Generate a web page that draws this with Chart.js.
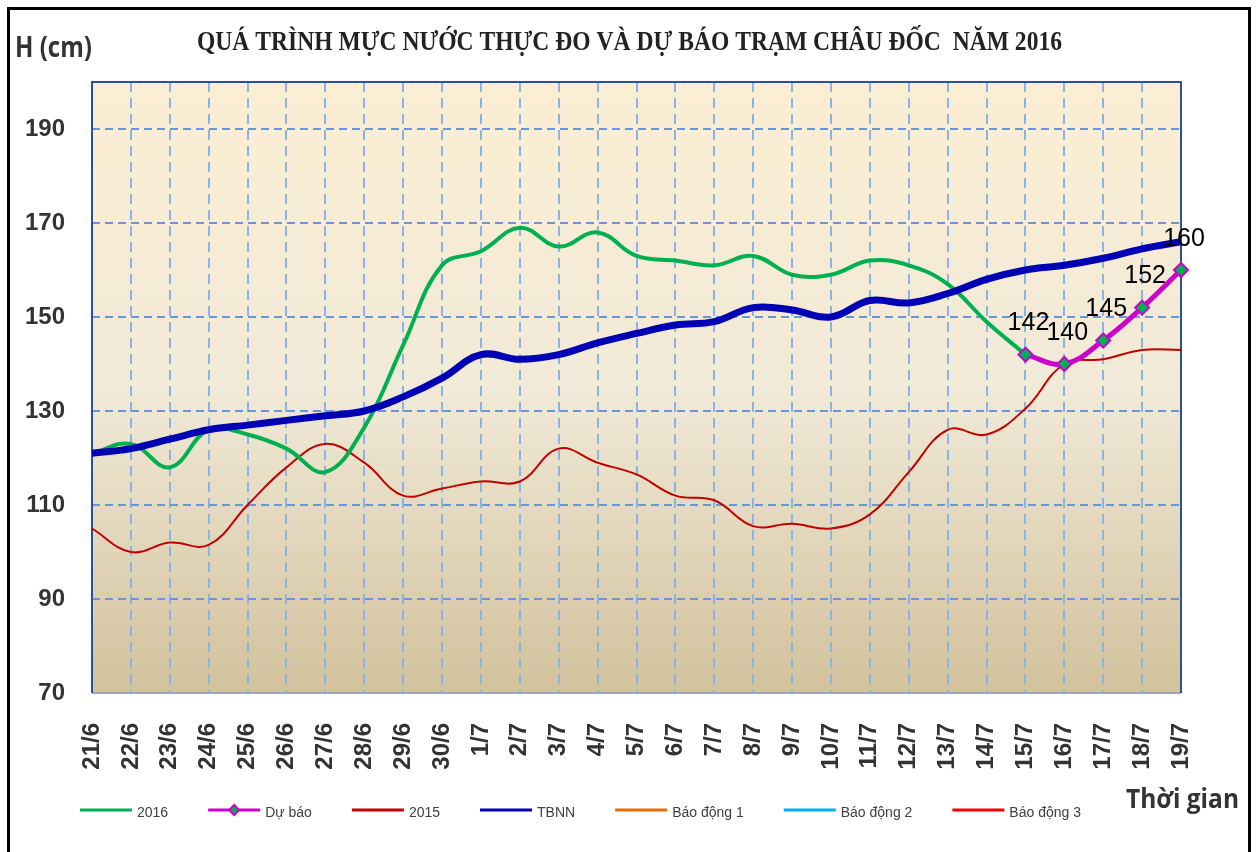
<!DOCTYPE html>
<html><head><meta charset="utf-8">
<script src="https://cdn.jsdelivr.net/npm/chart.js@4.4.1/dist/chart.umd.min.js"></script>
<style>html,body{margin:0;padding:0;background:#fff;}canvas{display:block;}</style>
</head><body>
<canvas id="c" width="1256" height="852"></canvas>
<script>
const categories = ['21/6','22/6','23/6','24/6','25/6','26/6','27/6','28/6','29/6','30/6',
  '1/7','2/7','3/7','4/7','5/7','6/7','7/7','8/7','9/7','10/7','11/7','12/7','13/7','14/7','15/7','16/7','17/7','18/7','19/7'];
const yTickValues = [70, 90, 110, 130, 150, 170, 190];
const series2016 = [121,123,118,126,125,122,117,126.5,144,161,164,169,165,168,163,162,161,163,159,159,162,161,157,149,142,null,null,null,null];
const seriesDuBao = [null,null,null,null,null,null,null,null,null,null,null,null,null,null,null,null,null,null,null,null,null,null,null,null,142,140,145,152,160];
const series2015 = [105,100,102,101.5,110,118,123,119,112,113.5,115,115,122,119,116.5,112,111,105.5,106,105,108,117,126,125,130.5,140,141,143,143];
const seriesTBNN = [121,122,124,126,127,128,129,130,133,137,142,141,142,144.5,146.5,148.3,149,152,151.5,150,153.5,153,155,158,160,161,162.5,164.5,166];
const seriesBaoDong1 = [];
const seriesBaoDong2 = [];
const seriesBaoDong3 = [];

const SANS = '"Liberation Sans", Arial, sans-serif';

function fitText(ctx, text, font, x, y, targetW, align) {
  ctx.save();
  ctx.font = font;
  const w = ctx.measureText(text).width;
  const sx = targetW / w;
  ctx.translate(x, y);
  ctx.scale(sx, 1);
  ctx.textAlign = align || 'left';
  ctx.textBaseline = 'alphabetic';
  ctx.fillText(text, 0, 0);
  ctx.restore();
}

const bgPlugin = {
  id: 'bgPlugin',
  beforeDraw(chart) {
    const {ctx, chartArea: {left, top, right, bottom}} = chart;
    ctx.save();
    ctx.fillStyle = '#ffffff';
    ctx.fillRect(0, 0, chart.width, chart.height);
    const g = ctx.createLinearGradient(0, top, 0, bottom);
    g.addColorStop(0, '#FCEED3');
    g.addColorStop(0.5, '#F1EAD8');
    g.addColorStop(1, '#D2C29D');
    ctx.fillStyle = g;
    ctx.fillRect(left, top, right - left, bottom - top);
    ctx.restore();
  },
  beforeDatasetsDraw(chart) {
    const {ctx, chartArea: {left, top, right, bottom}} = chart;
    ctx.save();
    ctx.lineWidth = 2;
    ctx.strokeStyle = '#9AA6BA';
    ctx.beginPath(); ctx.moveTo(left, bottom); ctx.lineTo(right, bottom); ctx.stroke();
    ctx.strokeStyle = '#2E5090';
    ctx.beginPath();
    ctx.moveTo(left, bottom); ctx.lineTo(left, top); ctx.lineTo(right, top); ctx.lineTo(right, bottom);
    ctx.stroke();
    ctx.restore();
  }
};

const labelPlugin = {
  id: 'labelPlugin',
  afterDatasetsDraw(chart) {
    const ctx = chart.ctx;
    const idx = chart.data.datasets.findIndex(d => d.label === 'Dự báo');
    const meta = chart.getDatasetMeta(idx);
    const data = chart.data.datasets[idx].data;
    ctx.save();
    ctx.font = '25px ' + SANS;
    ctx.fillStyle = '#000';
    ctx.textAlign = 'center';
    ctx.textBaseline = 'middle';
    meta.data.forEach((pt, i) => {
      if (data[i] == null) return;
      ctx.fillText(String(data[i]), pt.x + 3, pt.y - 31);
    });
    ctx.restore();
  }
};

const decoPlugin = {
  id: 'decoPlugin',
  afterDraw(chart) {
    const ctx = chart.ctx;
    ctx.fillStyle = '#222';
    fitText(ctx, 'QUÁ TRÌNH MỰC NƯỚC THỰC ĐO VÀ DỰ BÁO TRẠM CHÂU ĐỐC  NĂM 2016',
      'bold 27px "Liberation Serif", "Times New Roman", serif', 629.5, 50, 865, 'center');
    ctx.fillStyle = '#333';
    fitText(ctx, 'H (cm)', 'bold 28px "Open Sans", sans-serif', 15, 57, 77, 'left');
    fitText(ctx, 'Thời gian', 'bold 26px "Open Sans", sans-serif', 1126, 808, 113, 'left');

    ctx.save();
    ctx.font = '14px ' + SANS;
    ctx.textBaseline = 'middle';
    ctx.textAlign = 'left';
    let x = 80;
    const y = 812;
    chart.data.datasets.forEach(ds => {
      ctx.strokeStyle = ds.borderColor;
      ctx.lineWidth = 3;
      ctx.beginPath(); ctx.moveTo(x, y - 2); ctx.lineTo(x + 52, y - 2); ctx.stroke();
      if (ds.pointStyle === 'rectRot') {
        const cx = x + 26, cy = y - 2, r = 5;
        ctx.beginPath();
        ctx.moveTo(cx, cy - r); ctx.lineTo(cx + r, cy); ctx.lineTo(cx, cy + r); ctx.lineTo(cx - r, cy); ctx.closePath();
        ctx.fillStyle = ds.pointBackgroundColor; ctx.fill();
        ctx.lineWidth = 2; ctx.strokeStyle = ds.pointBorderColor; ctx.stroke();
      }
      ctx.fillStyle = '#404040';
      ctx.fillText(ds.label, x + 57, y + 1);
      x += 57 + ctx.measureText(ds.label).width + 40;
    });
    ctx.restore();

    ctx.save();
    ctx.strokeStyle = '#000';
    ctx.lineWidth = 3;
    ctx.strokeRect(8.5, 8.5, 1241, 860);
    ctx.restore();
  }
};

const tickFont = {family: SANS, weight: 'bold', size: 24};

new Chart(document.getElementById('c'), {
  type: 'line',
  data: {
    labels: categories,
    datasets: [
      {label: '2016', data: series2016, borderColor: '#00B050', borderWidth: 4, pointRadius: 0, tension: 0.4, order: 2},
      {label: 'Dự báo', data: seriesDuBao, borderColor: '#CC00CC', borderWidth: 5, pointStyle: 'rectRot', pointRadius: 7,
        pointBackgroundColor: '#00B050', pointBorderColor: '#CC00CC', pointBorderWidth: 2, tension: 0.4, order: 1},
      {label: '2015', data: series2015, borderColor: '#C00000', borderWidth: 2, pointRadius: 0, tension: 0.4, order: 3},
      {label: 'TBNN', data: seriesTBNN, borderColor: '#0000B4', borderWidth: 7, pointRadius: 0, tension: 0.4, order: 0},
      {label: 'Báo động 1', data: seriesBaoDong1, borderColor: '#E46C0A', borderWidth: 2, pointRadius: 0, order: 4},
      {label: 'Báo động 2', data: seriesBaoDong2, borderColor: '#00B0F0', borderWidth: 2, pointRadius: 0, order: 5},
      {label: 'Báo động 3', data: seriesBaoDong3, borderColor: '#FF0000', borderWidth: 2, pointRadius: 0, order: 6}
    ]
  },
  options: {
    responsive: false,
    animation: false,
    devicePixelRatio: 1,
    layout: {padding: {top: 82, right: 75, left: 0, bottom: 0}},
    plugins: {legend: {display: false}, title: {display: false}, tooltip: {enabled: false}},
    scales: {
      x: {
        type: 'category',
        offset: false,
        grid: {color: '#8DB3E2', lineWidth: 2, drawTicks: false, offset: false},
        border: {display: false, dash: [10, 6]},
        ticks: {autoSkip: false, maxRotation: 90, minRotation: 90, padding: 30, color: '#333', font: tickFont},
        afterFit(s) { s.height = 159; }
      },
      y: {
        min: 70, max: 200,
        afterBuildTicks(s) { s.ticks = yTickValues.map(v => ({value: v})); },
        grid: {color: '#6A96D6', lineWidth: 2, drawTicks: false},
        border: {display: false, dash: [8, 5]},
        ticks: {padding: 27, color: '#333', font: tickFont},
        afterFit(s) { s.width = 92; }
      }
    }
  },
  plugins: [bgPlugin, labelPlugin, decoPlugin]
});
</script>
</body></html>
